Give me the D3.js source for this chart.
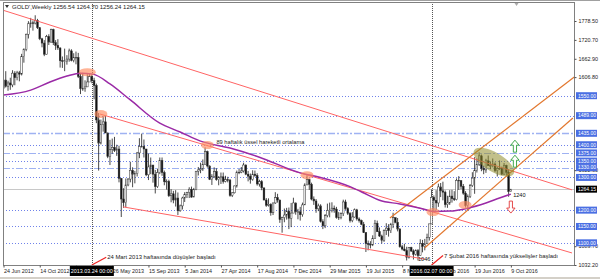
<!DOCTYPE html>
<html>
<head>
<meta charset="utf-8">
<script src="https://cdn.jsdelivr.net/npm/d3@7/dist/d3.min.js"></script>
<style>
    body { margin: 0; background: #fff; }
    svg { display: block; font-family: "Liberation Sans", Arial, sans-serif; }
    .axis path { display: none; }
    .axis line { stroke: #505050; }
    .axis text { fill: #222; font-size: 5.4px; }
</style>
</head>
<body>
<div id="svg_container"></div>
<script>
// weekly GOLD bars, index 0 = week of 24 Jun 2012, last = week of 9 Oct 2016
var opens = [
    1572,1598,1579,1589,1583,1619,1605,1620,1616,1670,1692,1738,1770,1773,1772,1780,1758,1724,1711,1677,1731,1714,1752,1712,1704,1696,1657,
    1656,1656,1662,1687,1658,1667,1667,1609,1572,1572,1577,1592,1608,1596,1581,1476,1405,1462,1470,1436,1364,1386,1392,1383,1387,1297,1234,1223,1277,1295,1322,1310,1312,1375,1395,1395,1387,1308,1332,1338,1310,1272,1315,1352,1315,1287,1288,1244,1250,1231,1237,1198,
    1213,1237,1248,1254,1264,1240,1263,1319,1323,1326,1339,1379,1335,1294,1303,1318,1293,1300,1302,1288,1293,1292,1245,1253,1274,1316,1316,1320,1338,1310,1304,1294,1310,1306,1280,1287,1268,1231,1215,1218,1192,1222,1238,1231,1171,1177,1185,1197,1175,1191,1222,1195,
    1195,1186,1216,1277,1293,1279,1234,1228,1204,1213,1165,1152,1183,1199,1200,1206,1203,1178,1178,1189,1225,1205,1190,1168,1179,1201,1173,1168,1157,1131,1098,1095,1094,1113,1160,1134,1121,1108,1138,1145,1137,1156,1177,1163,1142,1088,1081,1076,1056,1086,1075,1065,
    1076,1061,1098,1089,1097,1117,1158,1239,1230,1222,1271,1259,1255,1217,1222,1243,1235,1232,1291,1290,1273,1252,1214,1242,1275,1298,1322,1340,1366,1328,1323,1351,1336,1336,1341,1321,1327,1328,1310,1337,1316,1256.54
];
var highs = [
    1605,1625,1596,1605,1628,1625,1626,1626,1678,1695,1740,1778,1788,1780,1796,1785,1755,1727,1720,1736,1738,1755,1755,1720,1723,1698,1670,
    1694,1674,1694,1692,1680,1685,1681,1620,1620,1597,1616,1616,1615,1605,1587,1497,1477,1487,1488,1437,1415,1419,1424,1400,1397,1298,1267,1297,1298,1348,1331,1320,1378,1420,1434,1416,1387,1373,1361,1338,1323,1327,1361,1361,1321,1294,1293,1264,1259,1261,1254,1217,
    1241,1255,1256,1270,1272,1268,1320,1332,1345,1355,1392,1382,1337,1310,1331,1328,1304,1315,1315,1305,1302,1295,1255,1275,1321,1326,1332,1345,1340,1320,1312,1322,1321,1313,1293,1292,1269,1237,1236,1221,1223,1255,1250,1232,1180,1205,1207,1208,1222,1238,1223,1204,
    1210,1223,1282,1307,1296,1284,1242,1234,1220,1218,1172,1188,1220,1223,1224,1214,1210,1194,1193,1232,1232,1209,1194,1194,1205,1204,1178,1171,1164,1132,1107,1105,1123,1170,1168,1147,1125,1141,1160,1157,1161,1192,1177,1176,1145,1094,1097,1088,1087,1088,1080,1080,
    1081,1111,1109,1112,1128,1158,1263,1245,1261,1281,1283,1287,1260,1244,1261,1262,1258,1297,1304,1291,1280,1258,1248,1280,1316,1362,1358,1377,1370,1336,1357,1367,1349,1358,1346,1332,1352,1333,1344,1339,1325,1264.70
];
var lows = [
    1548,1575,1565,1568,1576,1582,1597,1594,1612,1651,1686,1725,1758,1749,1768,1754,1720,1698,1671,1676,1705,1712,1705,1690,1690,1636,1635,
    1625,1645,1654,1655,1652,1646,1604,1555,1565,1562,1577,1598,1588,1539,1466,1321,1401,1440,1436,1359,1338,1372,1378,1366,1285,1179,1207,1209,1273,1285,1270,1282,1303,1359,1392,1361,1304,1292,1310,1284,1251,1268,1310,1305,1276,1263,1240,1224,1221,1211,1185,1195,
    1202,1225,1237,1237,1238,1240,1261,1306,1313,1320,1338,1330,1292,1277,1298,1290,1276,1280,1281,1285,1285,1241,1240,1251,1269,1310,1313,1315,1307,1288,1281,1290,1302,1275,1272,1261,1230,1210,1211,1183,1185,1219,1223,1161,1131,1163,1171,1142,1148,1192,1186,1172,
    1168,1180,1216,1277,1262,1230,1216,1192,1197,1162,1142,1145,1178,1178,1193,1192,1174,1170,1172,1182,1201,1185,1162,1163,1177,1168,1162,1154,1130,1072,1077,1083,1090,1112,1133,1118,1098,1103,1124,1119,1130,1145,1160,1135,1085,1077,1074,1046,1052,1072,1049,1061,
    1046,1060,1071,1077,1097,1107,1157,1197,1200,1210,1240,1230,1208,1207,1216,1223,1228,1230,1262,1264,1247,1208,1200,1237,1271,1250,1315,1335,1319,1310,1314,1335,1325,1331,1316,1303,1323,1307,1308,1306,1241,1256.24
];
var closes = [
    1598,1579,1589,1583,1619,1605,1620,1616,1670,1692,1738,1770,1773,1772,1780,1758,1724,1711,1677,1731,1714,1752,1712,1704,1696,1657,1656,
    1656,1662,1687,1658,1667,1667,1609,1572,1572,1577,1592,1608,1596,1581,1476,1405,1462,1470,1436,1364,1386,1392,1383,1387,1297,1234,1223,1277,1295,1322,1310,1312,1375,1395,1395,1387,1308,1332,1338,1310,1272,1315,1352,1315,1287,1288,1244,1250,1231,1237,1198,1213,
    1237,1248,1254,1264,1240,1263,1319,1323,1326,1339,1379,1335,1294,1303,1318,1293,1300,1302,1288,1293,1292,1245,1253,1274,1316,1316,1320,1338,1310,1304,1294,1310,1306,1280,1287,1268,1231,1215,1218,1192,1222,1238,1231,1171,1177,1185,1197,1175,1191,1222,1195,1195,
    1186,1216,1277,1293,1279,1234,1228,1204,1213,1165,1152,1183,1199,1200,1206,1203,1178,1178,1189,1225,1205,1190,1168,1179,1201,1173,1168,1157,1131,1098,1095,1094,1113,1160,1134,1121,1108,1138,1145,1137,1156,1177,1163,1142,1088,1081,1076,1056,1086,1075,1065,1076,
    1061,1098,1089,1097,1117,1158,1239,1230,1222,1271,1259,1255,1217,1222,1243,1235,1232,1291,1290,1273,1252,1214,1242,1275,1298,1322,1340,1366,1328,1323,1351,1336,1336,1341,1321,1327,1328,1310,1337,1316,1257,1264.15
];

// 89 week EMA
var maWeeks = [0, 12, 20.5, 28, 34, 39.5, 47, 56, 69, 78, 87, 100, 113, 131, 140, 153, 161, 166, 175, 184, 190, 197, 205, 213, 219, 224];
var maValues = [1552, 1567, 1592, 1610, 1619, 1616, 1586, 1537, 1466, 1439, 1411, 1390, 1362, 1314, 1300, 1272, 1246, 1230, 1219, 1206, 1196, 1197, 1206, 1222, 1237, 1249];

var xTickWeeks = [0, 16, 32, 48, 64, 80, 96, 112, 128, 144, 160, 176, 192, 208, 224];
var xTickLabels = ["24 Jun 2012", "14 Oct 2012", "3 Feb 2013", "26 May 2013", "15 Sep 2013", "5 Jan 2014", "27 Apr 2014",
    "17 Aug 2014", "7 Dec 2014", "29 Mar 2015", "19 Jul 2015", "8 Nov 2015", "28 Feb 2016", "19 Jun 2016", "9 Oct 2016"];
var yTickValues = [1778.5, 1720.7, 1662.9, 1606.8, 1322.3, 1089.7, 1032.2];

var levelPrices = [1550, 1489, 1435, 1400, 1375, 1350, 1330, 1300, 1200, 1150, 1100];
var lastPrice = 1264.15;

var markerWeeks = [39, 189];
var markerLabels = ["2013.03.24 00:00", "2016.02.07 00:00"];

// trend lines: [startWeek, startPrice, endWeek, endPrice]
var redLines = [
    [0, 1811, 251, 1262],
    [42.6, 1494, 251, 1069],
    [52.8, 1210, 186, 1050]
];
var orangeLines = [
    [170.6, 1176, 252, 1607],
    [186, 1085, 251.4, 1482]
];

var touchWeeks = [37, 43, 90, 134, 189.6, 203.8];
var touchPrices = [1622, 1494, 1399, 1307, 1194, 1216];

var noteTexts = ["24 Mart 2013 haftasında düşüşler başladı", "7 Şubat 2016 haftasında yükselişler başladı"];
var noteWeeks = [45.8, 194.5];
var notePrices = [1050, 1055];

function ChartHolder(width, height, containerID) {
    this.width = width;
    this.height = height;
    this.plot = {left: 3, top: 2, right: 574, bottom: 265};

    this.svg = d3.select(containerID)
            .append("svg")
            .attr("width", this.width)
            .attr("height", this.height);

    this.x = d3.scaleLinear()
            .domain([0, 224])
            .range([3.5, 3.5 + 224 * 2.265]);
    this.y = d3.scaleLinear()
            .domain([1032.2, 1778.5])
            .range([265, 21]);
}

var chart = new ChartHolder(600, 279, "#svg_container");
var svg = chart.svg, x = chart.x, y = chart.y, P = chart.plot;

svg.append("rect")
        .attr("width", 600)
        .attr("height", 279)
        .attr("fill", "#fff");

svg.append("defs").append("clipPath")
        .attr("id", "plotClip")
        .append("rect")
        .attr("x", P.left)
        .attr("y", P.top)
        .attr("width", P.right - P.left)
        .attr("height", P.bottom - P.top);

var g = svg.append("g").attr("clip-path", "url(#plotClip)");

// horizontal levels
var dashDot = [1435, 1375, 1330];
g.selectAll(".level")
        .data(levelPrices)
        .enter().append("line")
        .attr("x1", P.left)
        .attr("x2", P.right)
        .attr("y1", function (d) { return Math.round(y(d)) + 0.5; })
        .attr("y2", function (d) { return Math.round(y(d)) + 0.5; })
        .attr("stroke", function (d) { return dashDot.indexOf(d) >= 0 ? "#9fb2f2" : "#6f82ea"; })
        .attr("stroke-width", function (d) { return d === 1435 ? 1.6 : 1; })
        .attr("stroke-dasharray", function (d) { return dashDot.indexOf(d) >= 0 ? "7,2,2,2" : "1,2"; });

// current price line
g.append("line")
        .attr("x1", P.left)
        .attr("x2", P.right)
        .attr("y1", Math.round(y(lastPrice)) + 0.5)
        .attr("y2", Math.round(y(lastPrice)) + 0.5)
        .attr("stroke", "#c8c8c8")
        .attr("stroke-width", 1);

// vertical dotted markers
g.selectAll(".vmark")
        .data(markerWeeks)
        .enter().append("line")
        .attr("x1", function (d) { return Math.round(x(d)) + 0.5; })
        .attr("x2", function (d) { return Math.round(x(d)) + 0.5; })
        .attr("y1", P.top)
        .attr("y2", P.bottom)
        .attr("stroke", "#555")
        .attr("stroke-dasharray", "1,1");

// candles
var bars = closes.map(function (c, i) {
    return {w: i, o: opens[i], h: highs[i], l: lows[i], c: c};
});
g.selectAll(".wick")
        .data(bars)
        .enter().append("line")
        .attr("x1", function (d) { return x(d.w); })
        .attr("x2", function (d) { return x(d.w); })
        .attr("y1", function (d) { return y(d.h); })
        .attr("y2", function (d) { return y(d.l); })
        .attr("stroke", "#1a1a1a")
        .attr("stroke-width", 0.8);
g.selectAll(".body")
        .data(bars)
        .enter().append("rect")
        .attr("x", function (d) { return x(d.w) - 0.85; })
        .attr("width", 1.7)
        .attr("y", function (d) { return y(Math.max(d.o, d.c)); })
        .attr("height", function (d) { return Math.max(0.6, Math.abs(y(d.o) - y(d.c))); })
        .attr("fill", function (d) { return d.c >= d.o ? "#fff" : "#111"; })
        .attr("stroke", "#333")
        .attr("stroke-width", 0.5);

// trend lines
g.selectAll(".red")
        .data(redLines)
        .enter().append("line")
        .attr("x1", function (d) { return x(d[0]); })
        .attr("y1", function (d) { return y(d[1]); })
        .attr("x2", function (d) { return x(d[2]); })
        .attr("y2", function (d) { return y(d[3]); })
        .attr("stroke", "#ff6464")
        .attr("stroke-width", 1);
g.selectAll(".orange")
        .data(orangeLines)
        .enter().append("line")
        .attr("x1", function (d) { return x(d[0]); })
        .attr("y1", function (d) { return y(d[1]); })
        .attr("x2", function (d) { return x(d[2]); })
        .attr("y2", function (d) { return y(d[3]); })
        .attr("stroke", "#e2772e")
        .attr("stroke-width", 1.2);

// moving average
var maLine = d3.line()
        .x(function (d, i) { return x(maWeeks[i]); })
        .y(function (d) { return y(d); })
        .curve(d3.curveMonotoneX);
g.append("path")
        .datum(maValues)
        .attr("d", maLine)
        .attr("fill", "none")
        .attr("stroke", "#9a2aa6")
        .attr("stroke-width", 1.5);

// touch points
g.selectAll(".touch")
        .data(touchWeeks)
        .enter().append("ellipse")
        .attr("cx", function (d) { return x(d); })
        .attr("cy", function (d, i) { return y(touchPrices[i]); })
        .attr("rx", function (d, i) { return i === 0 ? 8.5 : 6.5; })
        .attr("ry", 4)
        .attr("fill", "#ff8c60")
        .attr("fill-opacity", 0.65);

// consolidation zone
g.append("ellipse")
        .attr("transform", "translate(" + x(216.5) + "," + y(1347) + ")rotate(31)")
        .attr("rx", 23)
        .attr("ry", 9.5)
        .attr("fill", "#908c2a")
        .attr("fill-opacity", 0.55);

// arrows
function arrowPath(cx, tip, dir) {
    var s = dir;
    return "M" + cx + "," + tip
            + "L" + (cx + 4.2) + "," + (tip + 5 * s)
            + "L" + (cx + 1.6) + "," + (tip + 5 * s)
            + "L" + (cx + 1.6) + "," + (tip + 12 * s)
            + "L" + (cx - 1.6) + "," + (tip + 12 * s)
            + "L" + (cx - 1.6) + "," + (tip + 5 * s)
            + "L" + (cx - 4.2) + "," + (tip + 5 * s) + "Z";
}
var upTips = [1414, 1368];
g.selectAll(".up")
        .data(upTips)
        .enter().append("path")
        .attr("d", function (d) { return arrowPath(x(225.8), y(d), 1); })
        .attr("fill", "#fff")
        .attr("stroke", "#2e9e3a")
        .attr("stroke-width", 0.9);
g.append("path")
        .attr("d", arrowPath(x(224), y(1191), -1))
        .attr("fill", "#fff")
        .attr("stroke", "#e23a3a")
        .attr("stroke-width", 0.9);

// small value labels
svg.append("text")
        .attr("x", x(225))
        .attr("y", y(1249) + 3)
        .attr("font-size", 5.6)
        .attr("fill", "#111")
        .text("1240");
svg.append("text")
        .attr("x", x(183))
        .attr("y", y(1046) + 1)
        .attr("font-size", 5.6)
        .attr("fill", "#111")
        .text("1046");
svg.append("text")
        .attr("x", x(94))
        .attr("y", y(1402))
        .attr("font-size", 5.7)
        .attr("fill", "#222")
        .text("89 haftalık üssel hareketli ortalama");

// notes with red pointers
noteTexts.forEach(function (t, i) {
    svg.append("line")
            .attr("x1", x(markerWeeks[i]))
            .attr("y1", P.bottom)
            .attr("x2", x(noteWeeks[i]) - 1)
            .attr("y2", y(notePrices[i]) - 2)
            .attr("stroke", "#ee2222")
            .attr("stroke-width", 1.2);
    svg.append("text")
            .attr("x", x(noteWeeks[i]))
            .attr("y", y(notePrices[i]))
            .attr("font-size", 5.9)
            .attr("fill", "#222")
            .text(t);
});

// frame
svg.append("line")
        .attr("x1", 0).attr("x2", 600)
        .attr("y1", 0.5).attr("y2", 0.5)
        .attr("stroke", "#a0a0a0");
svg.append("rect")
        .attr("x", P.left + 0.5)
        .attr("y", P.top + 0.5)
        .attr("width", P.right - P.left)
        .attr("height", P.bottom - P.top)
        .attr("fill", "none")
        .attr("stroke", "#808080");
svg.append("rect")
        .attr("x", 0)
        .attr("y", 277)
        .attr("width", 600)
        .attr("height", 2)
        .attr("fill", "#d4d0c8");

// shift marker
svg.append("path")
        .attr("d", "M" + (x(226.5) - 2) + ",3L" + (x(226.5) + 2) + ",3L" + x(226.5) + ",6Z")
        .attr("fill", "#aaa");

// header
svg.append("path")
        .attr("d", "M5,5L9,5L7,8Z")
        .attr("fill", "#333");
svg.append("text")
        .attr("x", 12)
        .attr("y", 9)
        .attr("font-size", 6)
        .attr("fill", "#222")
        .text("GOLD',Weekly  1256.54 1264.70 1256.24 1264.15");

// axes
var xAxis = svg.append("g")
        .attr("class", "x axis")
        .attr("transform", "translate(0," + (P.bottom + 0.5) + ")")
        .call(d3.axisBottom(x)
                .tickValues(xTickWeeks)
                .tickFormat(function (d, i) { return xTickLabels[i]; })
                .tickSize(2)
                .tickPadding(2));
xAxis.selectAll("text").attr("text-anchor", "start");

var yAxis = svg.append("g")
        .attr("class", "y axis")
        .attr("transform", "translate(" + (P.right + 0.5) + ",0)")
        .call(d3.axisRight(y)
                .tickValues(yTickValues)
                .tickFormat(d3.format(".2f"))
                .tickSize(2)
                .tickPadding(2));
yAxis.selectAll("text").attr("font-size", 5);

// level boxes on the price scale
var boxes = svg.append("g");
levelPrices.forEach(function (p) {
    boxes.append("rect")
            .attr("x", P.right + 2)
            .attr("y", y(p) - 3.5)
            .attr("width", 21)
            .attr("height", 7)
            .attr("fill", "#4a6fe3");
    boxes.append("text")
            .attr("x", P.right + 4)
            .attr("y", y(p) + 1.8)
            .attr("font-size", 5)
            .attr("fill", "#fff")
            .text(d3.format(".2f")(p));
});
boxes.append("rect")
        .attr("x", P.right + 2)
        .attr("y", y(lastPrice) - 3.5)
        .attr("width", 21)
        .attr("height", 7)
        .attr("fill", "#000");
boxes.append("text")
        .attr("x", P.right + 4)
        .attr("y", y(lastPrice) + 1.8)
        .attr("font-size", 5)
        .attr("fill", "#fff")
        .text(d3.format(".2f")(lastPrice));

// time markers on the date scale
markerWeeks.forEach(function (w, i) {
    svg.append("rect")
            .attr("x", x(w) - 22)
            .attr("y", P.bottom + 1)
            .attr("width", 44)
            .attr("height", 10)
            .attr("fill", "#000");
    svg.append("text")
            .attr("x", x(w))
            .attr("y", P.bottom + 8)
            .attr("text-anchor", "middle")
            .attr("font-size", 5.4)
            .attr("fill", "#fff")
            .text(markerLabels[i]);
});
</script>
</body>
</html>
